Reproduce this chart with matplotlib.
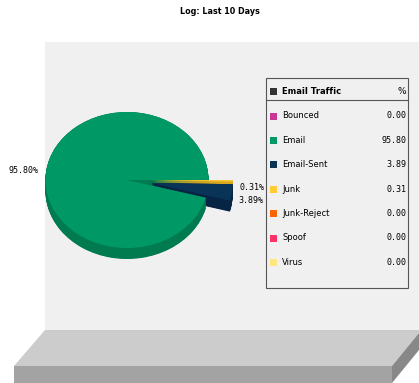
import matplotlib.pyplot as plt
from matplotlib.patches import Rectangle, Polygon

categories = ["Bounced", "Email", "Email-Sent", "Junk", "Junk-Reject", "Spoof", "Virus"]
percents = [0.00, 95.80, 3.89, 0.31, 0.00, 0.00, 0.00]
colors = ["#cc3399", "#009966", "#0a3358", "#ffcc33", "#ff6600", "#ff3366", "#ffe680"]
side_colors = ["#99286f", "#007a4f", "#062443", "#d9a820", "#cc5200", "#cc2952", "#d9c060"]
exploded = ["Email-Sent", "Junk"]
title = "Log: Last 10 Days"

W, H = 419, 383
fig = plt.figure(figsize=(W / 100, H / 100), dpi=100)

# background axes in pixel coords
bg = fig.add_axes([0, 0, 1, 1])
bg.set_xlim(0, W)
bg.set_ylim(H, 0)
bg.axis("off")

bg.add_patch(Rectangle((45, 42), W - 45, 288, facecolor="#f0f0f0", edgecolor="none"))
bg.add_patch(Polygon([(45, 330), (419, 330), (419, 333), (392, 366), (14, 366)],
                     facecolor="#cccccc", edgecolor="none"))
bg.add_patch(Rectangle((14, 366), 378, 17, facecolor="#a3a3a3", edgecolor="none"))
bg.add_patch(Polygon([(392, 366), (419, 333), (419, 350), (392, 383)],
                     facecolor="#888888", edgecolor="none"))

bg.text(220, 12, title, ha="center", va="center", fontsize=5.8, fontweight="bold")

# legend box
lx0, lx1, ly0, ly1 = 266, 408, 78, 288
bg.add_patch(Rectangle((lx0, ly0), lx1 - lx0, ly1 - ly0, facecolor="none",
                       edgecolor="#555555", linewidth=0.8))
bg.plot([lx0, lx1], [100, 100], color="#555555", linewidth=0.8)
bg.add_patch(Rectangle((270, 87.5), 7, 7, facecolor="#333333", edgecolor="none"))
bg.text(282, 91, "Email Traffic", fontsize=6, fontweight="bold", va="center")
bg.text(406, 91, "%", fontsize=6.5, ha="right", va="center")
for i, (cat, pct, col) in enumerate(zip(categories, percents, colors)):
    y = 116 + i * 24.4
    bg.add_patch(Rectangle((270, y - 3.5), 7, 7, facecolor=col, edgecolor="none"))
    bg.text(282, y, cat, fontsize=6, va="center")
    bg.text(406, y, f"{pct:.2f}", fontsize=6, ha="right", va="center",
            family="DejaVu Sans Mono")

# pie axes: 1 unit = 81.5 px across, 68 px down, center at (127, 180)
cx, cy, rx, ry = 127, 180, 81.5, 68
pax = fig.add_axes([0, 0, 1, 1])
pax.patch.set_alpha(0)

vals = [p for p in percents if p > 0]
cols = [c for c, p in zip(colors, percents) if p > 0]
scols = [c for c, p in zip(side_colors, percents) if p > 0]
cats = [c for c, p in zip(categories, percents) if p > 0]
explode = [0.3 if c in exploded else 0 for c in cats]
labels = [f"{p:.2f}%" for p in vals]

depth = 11 / ry
steps = 24
for k in range(steps + 1):
    d = depth * (1 - k / steps)
    pax.pie(vals, colors=scols, explode=explode, startangle=0, center=(0, -d),
            wedgeprops=dict(linewidth=0))

wedges, texts = pax.pie(vals, colors=cols, explode=explode, startangle=0,
                        labels=labels, labeldistance=1.1,
                        wedgeprops=dict(linewidth=0),
                        textprops=dict(fontsize=6, family="DejaVu Sans Mono"))
for t, c in zip(texts, cats):
    if c in exploded:
        x, y = t.get_position()
        t.set_position((x - 0.02, y - 0.1))
        t.set_ha("left")

pax.set_aspect("auto")
pax.set_xlim(-cx / rx, (W - cx) / rx)
pax.set_ylim(-(H - cy) / ry, cy / ry)
pax.axis("off")

fig.savefig("out.png", dpi=100)
